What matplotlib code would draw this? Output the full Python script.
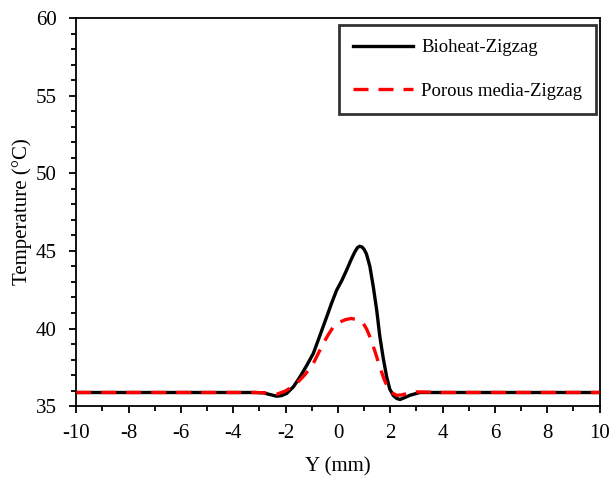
import matplotlib
matplotlib.use("Agg")
import matplotlib.pyplot as plt
from matplotlib.ticker import MultipleLocator

plt.rcParams['font.family'] = ['Liberation Serif', 'DejaVu Serif']
plt.rcParams['axes.unicode_minus'] = False

# values
y_bio = [-10, -8, -6, -4, -3.2, -2.86, -2.6, -2.34, -2.15, -1.96, -1.7, -1.45, -1.2,
         -0.94, -0.7, -0.43, -0.25, -0.05, 0.15, 0.33, 0.52, 0.65, 0.75, 0.83, 0.92,
         1.0, 1.09, 1.22, 1.35, 1.48, 1.60, 1.73, 1.86, 1.98, 2.11, 2.24, 2.37, 2.55,
         2.75, 3.13, 4, 6, 8, 10]
t_bio = [35.88, 35.88, 35.88, 35.88, 35.88, 35.86, 35.75, 35.64, 35.68, 35.82, 36.25,
         36.89, 37.6, 38.4, 39.5, 40.75, 41.6, 42.47, 43.1, 43.76, 44.5, 44.95, 45.22,
         45.3, 45.25, 45.1, 44.8, 44.0, 42.7, 41.2, 39.5, 38.1, 36.9, 36.1, 35.7, 35.5,
         35.43, 35.55, 35.7, 35.88, 35.88, 35.88, 35.88, 35.88]

y_por = [-10, -8, -6, -4, -3.2, -2.8, -2.34, -2.0, -1.58, -1.25, -0.94, -0.75, -0.56,
         -0.37, -0.18, 0.05, 0.3, 0.52, 0.75, 0.97, 1.1, 1.22, 1.4, 1.60, 1.76, 1.92,
         2.08, 2.24, 2.42, 2.62, 3.0, 4, 6, 8, 10]
t_por = [35.88, 35.88, 35.88, 35.88, 35.88, 35.86, 35.77, 35.98, 36.46, 37.05, 37.75,
         38.4, 39.04, 39.6, 40.1, 40.4, 40.58, 40.65, 40.55, 40.33, 39.95, 39.47, 38.6,
         37.53, 36.75, 36.13, 35.85, 35.7, 35.72, 35.8, 35.92, 35.88, 35.88, 35.88, 35.88]

fig, ax = plt.subplots(figsize=(6.1, 4.87), dpi=100)
fig.subplots_adjust(left=0.125, right=0.983, top=0.963, bottom=0.166)

ax.plot(y_bio, t_bio, color='black', lw=2.4, label='Bioheat-Zigzag', zorder=2)
ax.plot(y_por, t_por, color='red', lw=2.4, dashes=(4.5, 3), label='Porous media-Zigzag', zorder=3)

ax.set_xlim(-10, 10)
ax.set_ylim(35, 60)
ax.xaxis.set_major_locator(MultipleLocator(2))
ax.xaxis.set_minor_locator(MultipleLocator(1))
ax.yaxis.set_major_locator(MultipleLocator(5))
ax.yaxis.set_minor_locator(MultipleLocator(1))
ax.tick_params(which='major', direction='out', length=5, width=1.3, labelsize=15,
               top=False, right=False)
ax.tick_params(which='minor', direction='out', length=3.5, width=1.3, top=False, right=False)
ax.tick_params(axis='x', which='major', pad=8)
ax.tick_params(axis='y', which='major', pad=9)
for s in ax.spines.values():
    s.set_linewidth(1.3)

ax.set_xlabel('Y (mm)', fontsize=15, labelpad=10)
ax.set_ylabel('Temperature (°C)', fontsize=15, labelpad=3)

leg = ax.legend(loc='upper right', bbox_to_anchor=(0.994, 0.982), fontsize=13.5,
                frameon=True, fancybox=False, edgecolor='black', handlelength=3.2,
                handletextpad=0.45, labelspacing=1.4, borderpad=0.75, borderaxespad=0)
leg.get_frame().set_linewidth(2)

fig.savefig('out.png', dpi=100)
